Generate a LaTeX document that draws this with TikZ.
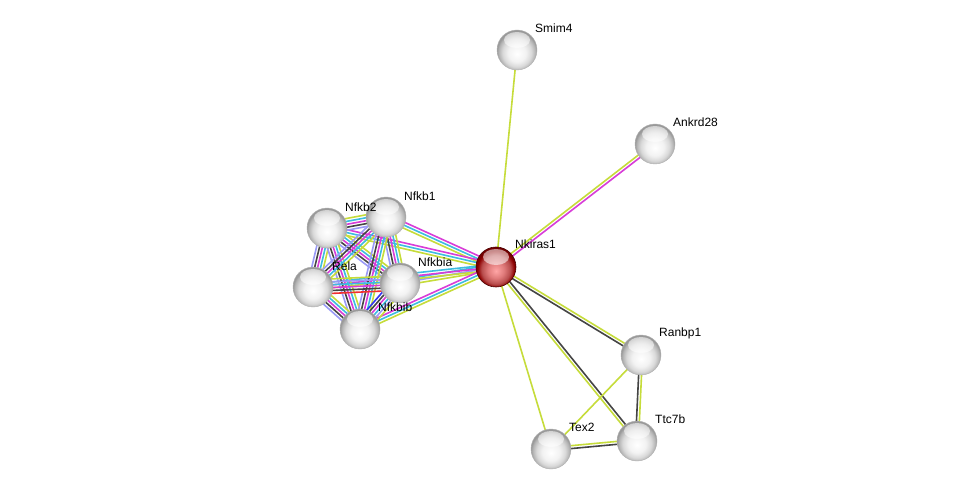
\documentclass[tikz,border=0pt]{standalone}
\usepackage{fontspec}
\setmainfont{Liberation Sans}
\usetikzlibrary{calc}
\pgfdeclarelayer{bg}
\pgfsetlayers{bg,main}
\definecolor{cy}{HTML}{C6DC3A}
\definecolor{cm}{HTML}{D83CD8}
\definecolor{cc}{HTML}{3CBCE0}
\definecolor{ck}{HTML}{454545}
\definecolor{cl}{HTML}{9A9AF6}
\definecolor{cr}{HTML}{F03030}
\definecolor{cb}{HTML}{3434F0}
\pgfdeclareradialshading{gsphere}{\pgfpoint{0bp}{-5bp}}{color(0bp)=(white); color(11bp)=(white!95!black); color(18bp)=(white!85!black); color(23bp)=(white!70!black); color(25bp)=(white!60!black); color(50bp)=(white!60!black)}
\pgfdeclareradialshading{rsphere}{\pgfpoint{0bp}{-5bp}}{color(0bp)=(red!35!white); color(10bp)=(red!45!white!88!black); color(18bp)=(red!60!black!70); color(23bp)=(red!55!black); color(25bp)=(red!45!black); color(50bp)=(red!45!black)}
\tikzset{
  sph/.style={circle,minimum size=40pt,inner sep=0pt,shading=gsphere,draw=black!30,line width=0.4pt},
  rsph/.style={circle,minimum size=40pt,inner sep=0pt,shading=rsphere,draw=red!30!black,line width=0.6pt},
  lbl/.style={anchor=west,inner sep=0pt,font=\fontsize{12}{14}\selectfont},
  edge/.style={line width=1.6pt},
  hl/.style={fill=white,opacity=0.55}
}
\newcommand\medge[3]{%
  \foreach \c [count=\k] in {#3} {\xdef\mcnt{\k}}%
  \foreach \c [count=\k] in {#3} {%
    \pgfmathsetmacro\off{(\k-(\mcnt+1)/2)*2.9}%
    \draw[edge,color=\c] ($(#1.center)!\off pt!90:(#2.center)$) -- ($(#2.center)!\off pt!-90:(#1.center)$);
  }}
\newcommand\hilite[1]{\fill[hl] ($(#1.center)+(0,-10)$) ellipse (13pt and 8pt);}
\begin{document}
\begin{tikzpicture}[x=1pt,y=-1pt]
\useasboundingbox (0,0) rectangle (976,494);
% nodes
\node[sph] (Smim4) at (517,50) {};
\node[sph] (Ankrd28) at (655,144) {};
\node[rsph] (Nkiras1) at (496,267) {};
\node[sph] (Nfkb2) at (327,228) {};
\node[sph] (Nfkb1) at (386,217) {};
\node[sph] (Rela) at (313,287) {};
\node[sph] (Nfkbia) at (400,283) {};
\node[sph] (Nfkbib) at (360,329) {};
\node[sph] (Ranbp1) at (641,355) {};
\node[sph] (Tex2) at (551,449) {};
\node[sph] (Ttc7b) at (637,441) {};
\foreach \n in {Smim4,Ankrd28,Nkiras1,Nfkb2,Nfkb1,Rela,Nfkbia,Nfkbib,Ranbp1,Tex2,Ttc7b}{\hilite{\n}}
% labels
\node[lbl] (lSmim4) at (535,28) {Smim4};
\node[lbl] (lAnkrd28) at (673,122) {Ankrd28};
\node[lbl] (lNkiras1) at (515,244) {Nkiras1};
\node[lbl] (lNfkb2) at (345,207) {Nfkb2};
\node[lbl] (lNfkb1) at (404,196) {Nfkb1};
\node[lbl] (lRela) at (332,266) {Rela};
\node[lbl] (lNfkbia) at (418,262) {Nfkbia};
\node[lbl] (lNfkbib) at (378,307) {Nfkbib};
\node[lbl] (lRanbp1) at (659,333) {Ranbp1};
\node[lbl] (lTtc7b) at (655,419) {Ttc7b};
\node[lbl] (lTex2) at (569,427) {Tex2};
% edges
\begin{pgfonlayer}{bg}
\fill[white] (0,0) rectangle (976,494);
\medge{Nkiras1}{Smim4}{cy}
\medge{Nkiras1}{Ankrd28}{cm,cy}
\medge{Nkiras1}{Ranbp1}{ck,cy}
\medge{Nkiras1}{Ttc7b}{cy,ck}
\medge{Nkiras1}{Tex2}{cy}
\medge{Ranbp1}{Ttc7b}{ck,cy}
\medge{Ranbp1}{Tex2}{cy}
\medge{Tex2}{Ttc7b}{ck,cy}
\medge{Nkiras1}{Nfkb1}{cm,cc,cy}
\medge{Nkiras1}{Nfkb2}{cm,cc,cy}
\medge{Nkiras1}{Nfkbia}{cc,cl,cy}
\medge{Nkiras1}{Rela}{cc,cm,cy}
\medge{Nkiras1}{Nfkbib}{cm,cc,cy}
\medge{Nfkb2}{Nfkb1}{cl,ck,cm,cc,cy}
\medge{Nfkb2}{Rela}{cl,ck,cm,cc,cy}
\medge{Nfkb2}{Nfkbia}{cl,ck,cm,cc,cy}
\medge{Nfkb2}{Nfkbib}{cl,ck,cm,cc,cy}
\medge{Nfkb1}{Rela}{cl,ck,cm,cc,cy}
\medge{Nfkb1}{Nfkbia}{cl,ck,cm,cc,cy}
\medge{Nfkb1}{Nfkbib}{cl,ck,cm,cc,cy}
\medge{Rela}{Nfkbia}{cr,ck,cm,cc,cl,cy}
\medge{Rela}{Nfkbib}{cl,ck,cm,cc,cy}
\medge{Nfkbia}{Nfkbib}{cb,ck,cm,cc,cl,cy}
\end{pgfonlayer}
\end{tikzpicture}
\end{document}
